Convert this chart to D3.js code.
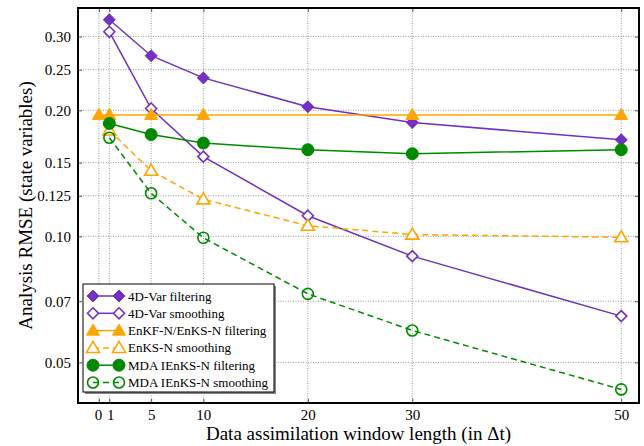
<!DOCTYPE html>
<html>
<head>
<meta charset="utf-8">
<script src="https://cdn.jsdelivr.net/npm/d3@7"></script>
<style>
  body { margin: 0; background: #fff; }
  text { font-family: "Liberation Serif", "DejaVu Serif", serif; }
</style>
</head>
<body>
<div id="app"></div>
<script>
// window lengths
const xTicks = [0, 1, 5, 10, 20, 30, 50];
const yTicks = [0.05, 0.07, 0.10, 0.125, 0.15, 0.20, 0.25, 0.30];
const yTickLabels = ["0.05", "0.07", "0.10", "0.125", "0.15", "0.20", "0.25", "0.30"];

const lagsMain = [1, 5, 10, 20, 30, 50];
const lagsEnkf = [0, 1, 5, 10, 30, 50];

const varFilt = [0.329, 0.270, 0.239, 0.204, 0.187, 0.170];
const varSmooth = [0.308, 0.202, 0.155, 0.112, 0.0897, 0.0645];
const enkfFilt = [0.195, 0.195, 0.195, 0.195, 0.195, 0.195];
const enksSmooth = [0.179, 0.1435, 0.1226, 0.106, 0.101, 0.0995];
const mdaFilt = [0.186, 0.175, 0.167, 0.161, 0.1575, 0.161];
const mdaSmooth = [0.172, 0.1267, 0.0992, 0.0729, 0.0596, 0.0431];

const purple = '#7231c2';
const orange = '#ffa500';
const green = '#008a00';

const series = [
  { name: '4D-Var filtering', x: lagsMain, y: varFilt, color: purple, shape: 'diamond', filled: true, dash: null },
  { name: '4D-Var smoothing', x: lagsMain, y: varSmooth, color: purple, shape: 'diamond', filled: false, dash: null },
  { name: 'EnKF-N/EnKS-N filtering', x: lagsEnkf, y: enkfFilt, color: orange, shape: 'triangle', filled: true, dash: null },
  { name: 'EnKS-N smoothing', x: lagsMain, y: enksSmooth, color: orange, shape: 'triangle', filled: false, dash: '6,4' },
  { name: 'MDA IEnKS-N filtering', x: lagsMain, y: mdaFilt, color: green, shape: 'circle', filled: true, dash: null },
  { name: 'MDA IEnKS-N smoothing', x: lagsMain, y: mdaSmooth, color: green, shape: 'circle', filled: false, dash: '6,4' }
];

const w = 644, h = 446;
const pLeft = 78, pRight = 639, pTop = 8, pBottom = 403;

const xScale = d3.scaleLinear().domain([-2, 51.7]).range([pLeft, pRight]);
const yScale = d3.scaleLog().domain([0.04, 0.351]).range([pBottom, pTop]);

const svg = d3.select('#app').append('svg').attr('width', w).attr('height', h);

// grid
svg.append('g').selectAll('line').data(xTicks).enter().append('line')
  .attr('x1', d => xScale(d)).attr('x2', d => xScale(d))
  .attr('y1', pTop).attr('y2', pBottom)
  .attr('stroke', '#999').attr('stroke-width', 1).attr('stroke-dasharray', '1,1.5');
svg.append('g').selectAll('line').data(yTicks).enter().append('line')
  .attr('x1', pLeft).attr('x2', pRight)
  .attr('y1', d => yScale(d)).attr('y2', d => yScale(d))
  .attr('stroke', '#999').attr('stroke-width', 1).attr('stroke-dasharray', '1,1.5');

// axes with inward ticks
const xAxis = d3.axisBottom(xScale).tickValues(xTicks).tickSize(-4).tickPadding(6).tickFormat(d3.format('d'));
const yAxis = d3.axisLeft(yScale).tickValues(yTicks).tickSize(-4).tickPadding(7).tickFormat((d, i) => yTickLabels[i]);

const gx = svg.append('g').attr('transform', 'translate(0,' + pBottom + ')').call(xAxis);
const gy = svg.append('g').attr('transform', 'translate(' + pLeft + ',0)').call(yAxis);
svg.append('g').attr('transform', 'translate(0,' + pTop + ')')
  .call(d3.axisTop(xScale).tickValues(xTicks).tickSize(-4).tickFormat(''));
svg.append('g').attr('transform', 'translate(' + pRight + ',0)')
  .call(d3.axisRight(yScale).tickValues(yTicks).tickSize(-4).tickFormat(''));
svg.selectAll('.domain').remove();
svg.selectAll('.tick line').attr('stroke', '#555');
gx.selectAll('text').style('font-size', '15px').attr('fill', '#000');
gy.selectAll('text').style('font-size', '15px').attr('fill', '#000');
gx.selectAll('.tick').filter(d => d === 0).select('text').attr('dx', '-1');
gx.selectAll('.tick').filter(d => d === 1).select('text').attr('dx', '1');

// axis titles
svg.append('text')
  .attr('x', (pLeft + pRight) / 2).attr('y', 440)
  .attr('text-anchor', 'middle').style('font-size', '19px')
  .text('Data assimilation window length (in Δt)');
svg.append('text')
  .attr('transform', 'rotate(-90)')
  .attr('x', -(pTop + pBottom) / 2).attr('y', 32)
  .attr('text-anchor', 'middle').style('font-size', '19px')
  .text('Analysis RMSE (state variables)');

// markers
function drawMarker(g, s, cx, cy) {
  const fill = s.filled ? s.color : '#fff';
  const sw = s.filled ? 1 : 1.6;
  if (s.shape === 'diamond') {
    const r = s.filled ? 6 : 5.5;
    g.append('path')
      .attr('d', `M${cx},${cy - r}L${cx + r},${cy}L${cx},${cy + r}L${cx - r},${cy}Z`)
      .attr('fill', fill).attr('stroke', s.color).attr('stroke-width', sw);
  } else if (s.shape === 'triangle') {
    const r = 6.5;
    g.append('path')
      .attr('d', `M${cx},${cy - r}L${cx + r},${cy + r * 0.7}L${cx - r},${cy + r * 0.7}Z`)
      .attr('fill', fill).attr('stroke', s.color).attr('stroke-width', sw);
  } else {
    g.append('circle').attr('cx', cx).attr('cy', cy).attr('r', s.filled ? 6 : 5.5)
      .attr('fill', s.filled ? s.color : 'none').attr('stroke', s.color).attr('stroke-width', sw);
  }
}

const line = d3.line().x(d => xScale(d[0])).y(d => yScale(d[1]));

const plot = svg.append('g');
series.forEach(s => {
  const pts = s.x.map((x, i) => [x, s.y[i]]);
  plot.append('path').datum(pts).attr('d', line)
    .attr('fill', 'none').attr('stroke', s.color).attr('stroke-width', 1.5)
    .attr('stroke-dasharray', s.dash);
  const mg = plot.append('g');
  pts.forEach(p => drawMarker(mg, s, xScale(p[0]), yScale(p[1])));
});

// frame
svg.append('rect').attr('x', pLeft).attr('y', pTop)
  .attr('width', pRight - pLeft).attr('height', pBottom - pTop)
  .attr('fill', 'none').attr('stroke', '#000').attr('stroke-width', 2);

// legend
const lx = 83, ly = 284, lw = 191, lh = 108;
const legend = svg.append('g');
legend.append('rect').attr('x', lx + 2).attr('y', ly + 2).attr('width', lw).attr('height', lh).attr('fill', '#888');
legend.append('rect').attr('x', lx).attr('y', ly).attr('width', lw).attr('height', lh)
  .attr('fill', '#fff').attr('stroke', '#000').attr('stroke-width', 1);
series.forEach((s, i) => {
  const cy = ly + 12 + i * 17.3;
  legend.append('line').attr('x1', 93).attr('x2', 119).attr('y1', cy).attr('y2', cy)
    .attr('stroke', s.color).attr('stroke-width', 1.5).attr('stroke-dasharray', s.dash);
  drawMarker(legend, s, 93, cy);
  drawMarker(legend, s, 119, cy);
  legend.append('text').attr('x', 128).attr('y', cy + 4.5).style('font-size', '13px').text(s.name);
});
</script>
</body>
</html>
